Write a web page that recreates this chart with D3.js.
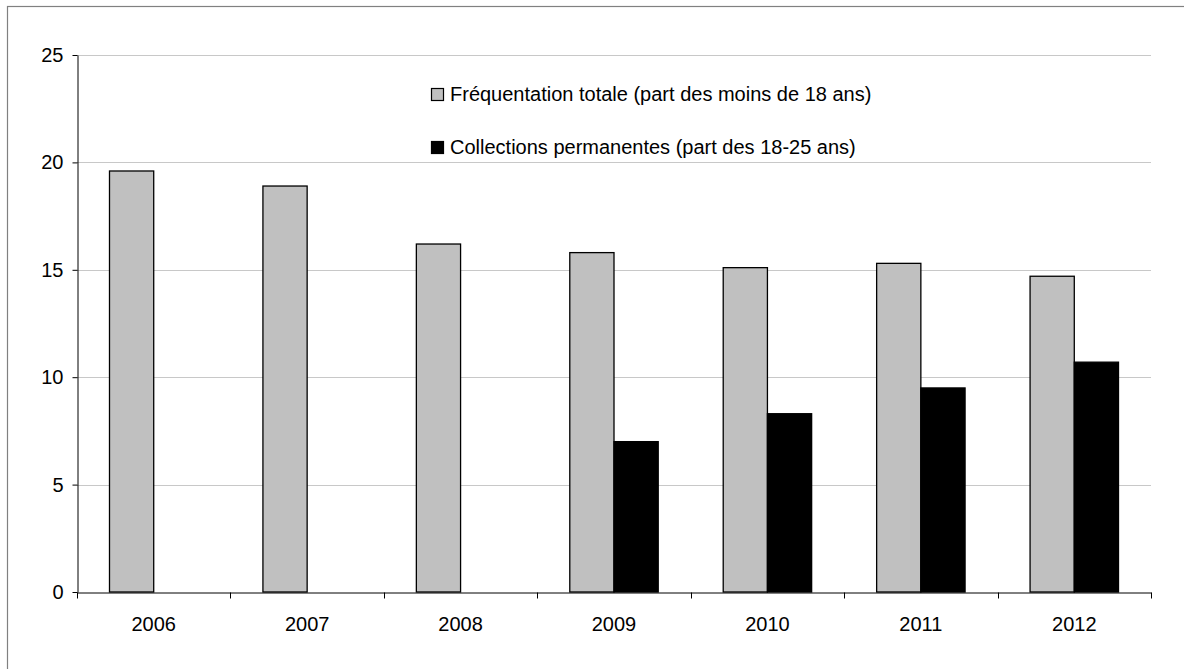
<!DOCTYPE html>
<html><head><meta charset="utf-8">
<script src="https://cdn.jsdelivr.net/npm/d3@7"></script>
<style>html,body{margin:0;padding:0;background:#fff;overflow:hidden}svg{display:block}</style>
</head><body>
<svg id="c" width="1184" height="669"></svg>
<script>
const years = ["2006","2007","2008","2009","2010","2011","2012"];
const seriesNames = ["Fréquentation totale (part des moins de 18 ans)", "Collections permanentes (part des 18-25 ans)"];
const totalUnder18 = [19.6, 18.9, 16.2, 15.8, 15.1, 15.3, 14.7];
const permanent18to25 = [null, null, null, 7.0, 8.3, 9.5, 10.7];
const yTicks = [0, 5, 10, 15, 20, 25];
const colors = ["#c0c0c0", "#000000"];

(function () {
const svg = d3.select("#c");
const font = "'Liberation Sans', Arial, sans-serif";
const fs = 20;
const pLeft = 77, pRight = 1151, pTop = 55, pBottom = 592;

// outer frame
svg.append("rect").attr("x", 7.5).attr("y", 6.5).attr("width", 1200).attr("height", 700)
  .attr("fill", "none").attr("stroke", "#808080").attr("stroke-width", 1.2);

const x0 = d3.scaleBand().domain(years).range([pLeft, pRight]).padding(0);
const x1 = d3.scaleBand().domain([0, 1]).range([0, x0.bandwidth()]).paddingInner(0).paddingOuter(0.735);
const y = d3.scaleLinear().domain([0, 25]).range([pBottom, pTop]);

// gridlines
svg.append("g").selectAll("line").data(yTicks.filter(d => d > 0)).join("line")
  .attr("x1", pLeft).attr("x2", pRight)
  .attr("y1", d => Math.round(y(d)) + 0.5).attr("y2", d => Math.round(y(d)) + 0.5)
  .attr("stroke", "#c8c8c8").attr("stroke-width", 1);

// bars
const data = years.map((yr, i) => ({yr, vals: [totalUnder18[i], permanent18to25[i]]}));
const groups = svg.append("g").selectAll("g").data(data).join("g")
  .attr("transform", d => `translate(${x0(d.yr)},0)`);
groups.selectAll("rect").data(d => d.vals.map((v, k) => ({v, k})).filter(e => e.v != null)).join("rect")
  .attr("x", e => x1(e.k)).attr("width", x1.bandwidth())
  .attr("y", e => y(e.v)).attr("height", e => y(0) - y(e.v))
  .attr("fill", e => colors[e.k]).attr("stroke", "#000").attr("stroke-width", 1.3);

// y axis
const yAxis = d3.axisLeft(y).tickValues(yTicks).tickSize(5).tickPadding(9).tickSizeOuter(0);
const gy = svg.append("g").attr("transform", `translate(${pLeft + 0.5},0)`).call(yAxis);
gy.select(".domain").attr("stroke", "#000");
gy.selectAll(".tick line").attr("stroke", "#000");
gy.selectAll("text").attr("font-family", font).attr("font-size", fs).attr("fill", "#000");

// x axis
const xAxis = d3.axisBottom(x0).tickSize(0).tickPadding(24).tickSizeOuter(0);
const gx = svg.append("g").attr("transform", `translate(0,${pBottom + 0.5})`).call(xAxis);
gx.select(".domain").attr("stroke", "#000");
gx.selectAll("text").attr("font-family", font).attr("font-size", fs).attr("fill", "#000");
const bounds = years.map(d => x0(d)).concat([pRight]);
gx.append("g").selectAll("line").data(bounds).join("line")
  .attr("x1", d => Math.round(d) + 0.5).attr("x2", d => Math.round(d) + 0.5)
  .attr("y1", 0).attr("y2", 6).attr("stroke", "#000");

// legend
const lg = svg.append("g");
const legY = [94, 147];
seriesNames.forEach((name, k) => {
  lg.append("rect").attr("x", 431.5).attr("y", legY[k] - 5.5).attr("width", 12).attr("height", 12)
    .attr("fill", colors[k]).attr("stroke", "#000").attr("stroke-width", 1.2);
  lg.append("text").attr("x", 450).attr("y", legY[k] + 7).attr("font-family", font)
    .attr("font-size", fs).attr("fill", "#000").text(name);
});
})();
</script>
</body></html>
